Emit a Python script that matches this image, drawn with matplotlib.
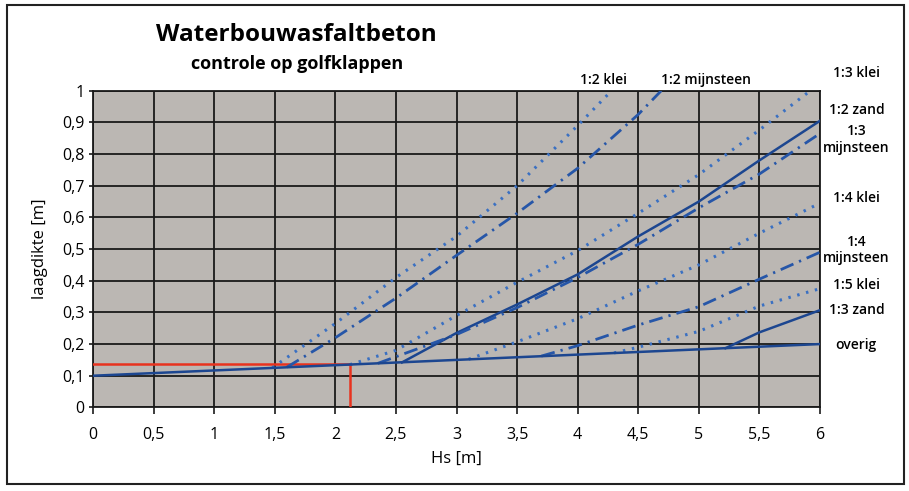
import matplotlib
matplotlib.use("Agg")
import matplotlib.pyplot as plt
from matplotlib.ticker import FuncFormatter, MultipleLocator
from matplotlib.patches import Rectangle

plt.rcParams['font.family'] = ['Open Sans', 'DejaVu Sans']

# ---- data (Hs [m], laagdikte [m]) ----
overig_x = [0, 6]
overig_y = [0.10, 0.20]

klei_12_x = [1.48, 2.0, 2.5, 3.0, 3.5, 4.0, 4.28]
klei_12_y = [0.125, 0.265, 0.41, 0.54, 0.70, 0.89, 1.0]

mijn_12_x = [1.6, 2.0, 2.5, 3.0, 3.5, 4.0, 4.5, 4.69]
mijn_12_y = [0.127, 0.22, 0.345, 0.48, 0.613, 0.755, 0.925, 1.0]

klei_13_x = [2.12, 2.5, 3.0, 3.5, 4.0, 4.5, 5.0, 5.5, 5.92]
klei_13_y = [0.135, 0.18, 0.29, 0.395, 0.495, 0.613, 0.735, 0.876, 1.0]

zand_12_x = [2.55, 3.0, 3.5, 4.0, 4.5, 5.0, 5.5, 6.0]
zand_12_y = [0.142, 0.235, 0.325, 0.42, 0.54, 0.65, 0.78, 0.905]

mijn_13_x = [2.35, 2.5, 3.0, 3.5, 4.0, 4.5, 5.0, 5.5, 6.0]
mijn_13_y = [0.139, 0.16, 0.23, 0.315, 0.41, 0.515, 0.63, 0.737, 0.865]

klei_14_x = [3.1, 3.5, 4.0, 4.5, 5.0, 5.5, 6.0]
klei_14_y = [0.152, 0.207, 0.28, 0.368, 0.45, 0.55, 0.645]

mijn_14_x = [3.7, 4.0, 4.5, 5.0, 5.5, 6.0]
mijn_14_y = [0.162, 0.195, 0.26, 0.318, 0.405, 0.49]

klei_15_x = [4.3, 4.5, 5.0, 5.5, 6.0]
klei_15_y = [0.172, 0.19, 0.24, 0.32, 0.375]

zand_13_x = [5.22, 5.5, 6.0]
zand_13_y = [0.187, 0.237, 0.307]

red_hs = 2.12
red_d = 0.136

right_labels = ["1:3 klei", "1:2 zand", "1:3\nmijnsteen", "1:4 klei",
                "1:4\nmijnsteen", "1:5 klei", "1:3 zand", "overig"]
right_label_y = [1.056, 0.939, 0.847, 0.661, 0.497, 0.386, 0.308, 0.197]
top_labels = ["1:2 klei", "1:2 mijnsteen"]
top_label_x = [4.21, 5.06]

# ---- figure ----
fig = plt.figure(figsize=(9.09, 4.91), dpi=100)
ax = fig.add_axes([93/909, 1-407.4/491, (820-93)/909, (407.4-90.7)/491])
ax.set_facecolor('#bbb7b3')

c_solid = '#1c4690'
c_dot = '#3a70c2'
c_dd = '#2656a8'
dot_ls = (0, (0.8, 2.2))
dd_ls = (0, (5, 2.2, 0.8, 2.2))

ax.plot(overig_x, overig_y, color=c_solid, lw=1.8, zorder=5)
ax.plot(klei_12_x, klei_12_y, color=c_dot, lw=2.2, ls=dot_ls, zorder=4)
ax.plot(mijn_12_x, mijn_12_y, color=c_dd, lw=2.0, ls=dd_ls, zorder=4)
ax.plot(klei_13_x, klei_13_y, color=c_dot, lw=2.2, ls=dot_ls, zorder=4)
ax.plot(zand_12_x, zand_12_y, color=c_solid, lw=1.8, zorder=4)
ax.plot(mijn_13_x, mijn_13_y, color=c_dd, lw=2.0, ls=dd_ls, zorder=4)
ax.plot(klei_14_x, klei_14_y, color=c_dot, lw=2.2, ls=dot_ls, zorder=4)
ax.plot(mijn_14_x, mijn_14_y, color=c_dd, lw=2.0, ls=dd_ls, zorder=4)
ax.plot(klei_15_x, klei_15_y, color=c_dot, lw=2.2, ls=dot_ls, zorder=4)
ax.plot(zand_13_x, zand_13_y, color=c_solid, lw=1.8, zorder=4)

ax.plot([0, red_hs], [red_d, red_d], color='#e8321e', lw=1.8, zorder=3)
ax.plot([red_hs, red_hs], [0, red_d], color='#e8321e', lw=1.8, zorder=3)

ax.set_xlim(0, 6)
ax.set_ylim(0, 1)
ax.xaxis.set_major_locator(MultipleLocator(0.5))
ax.yaxis.set_major_locator(MultipleLocator(0.1))
fmt = FuncFormatter(lambda v, p: (f"{v:.1f}".rstrip('0').rstrip('.')).replace('.', ','))
ax.xaxis.set_major_formatter(fmt)
ax.yaxis.set_major_formatter(fmt)
ax.grid(True, color='#1a1a1a', lw=1.3, zorder=1)
ax.set_axisbelow(True)
for s in ax.spines.values():
    s.set_color('#1a1a1a')
    s.set_linewidth(1.3)
ax.tick_params(axis='x', direction='out', length=5, width=1.2, color='#1a1a1a',
               labelsize=11.5, pad=9)
ax.tick_params(axis='y', direction='out', length=3, width=1.2, color='#1a1a1a',
               labelsize=11.5, pad=3)

ax.set_xlabel("Hs [m]", fontsize=12, labelpad=6)
ax.set_ylabel("laagdikte [m]", fontsize=12, labelpad=10)

for lab, yv in zip(right_labels, right_label_y):
    ax.text(6.3, yv, lab, fontsize=10, fontweight='semibold', ha='center',
            va='center', clip_on=False, linespacing=1.25)
for lab, xv in zip(top_labels, top_label_x):
    ax.text(xv, 1.034, lab, fontsize=10, fontweight='semibold', ha='center',
            va='center', clip_on=False)

fig.text(296/909, 1-35/491, "Waterbouwasfaltbeton", fontsize=17.5, fontweight='bold',
         ha='center', va='center')
fig.text(297/909, 1-64/491, "controle op golfklappen", fontsize=13, fontweight='bold',
         ha='center', va='center')

fig.patches.append(Rectangle((7/909, 1-484/491), (904-7)/909, (484-5)/491,
                             transform=fig.transFigure, fill=False,
                             edgecolor='#222222', lw=1.5))

fig.savefig("out.png", dpi=100)
